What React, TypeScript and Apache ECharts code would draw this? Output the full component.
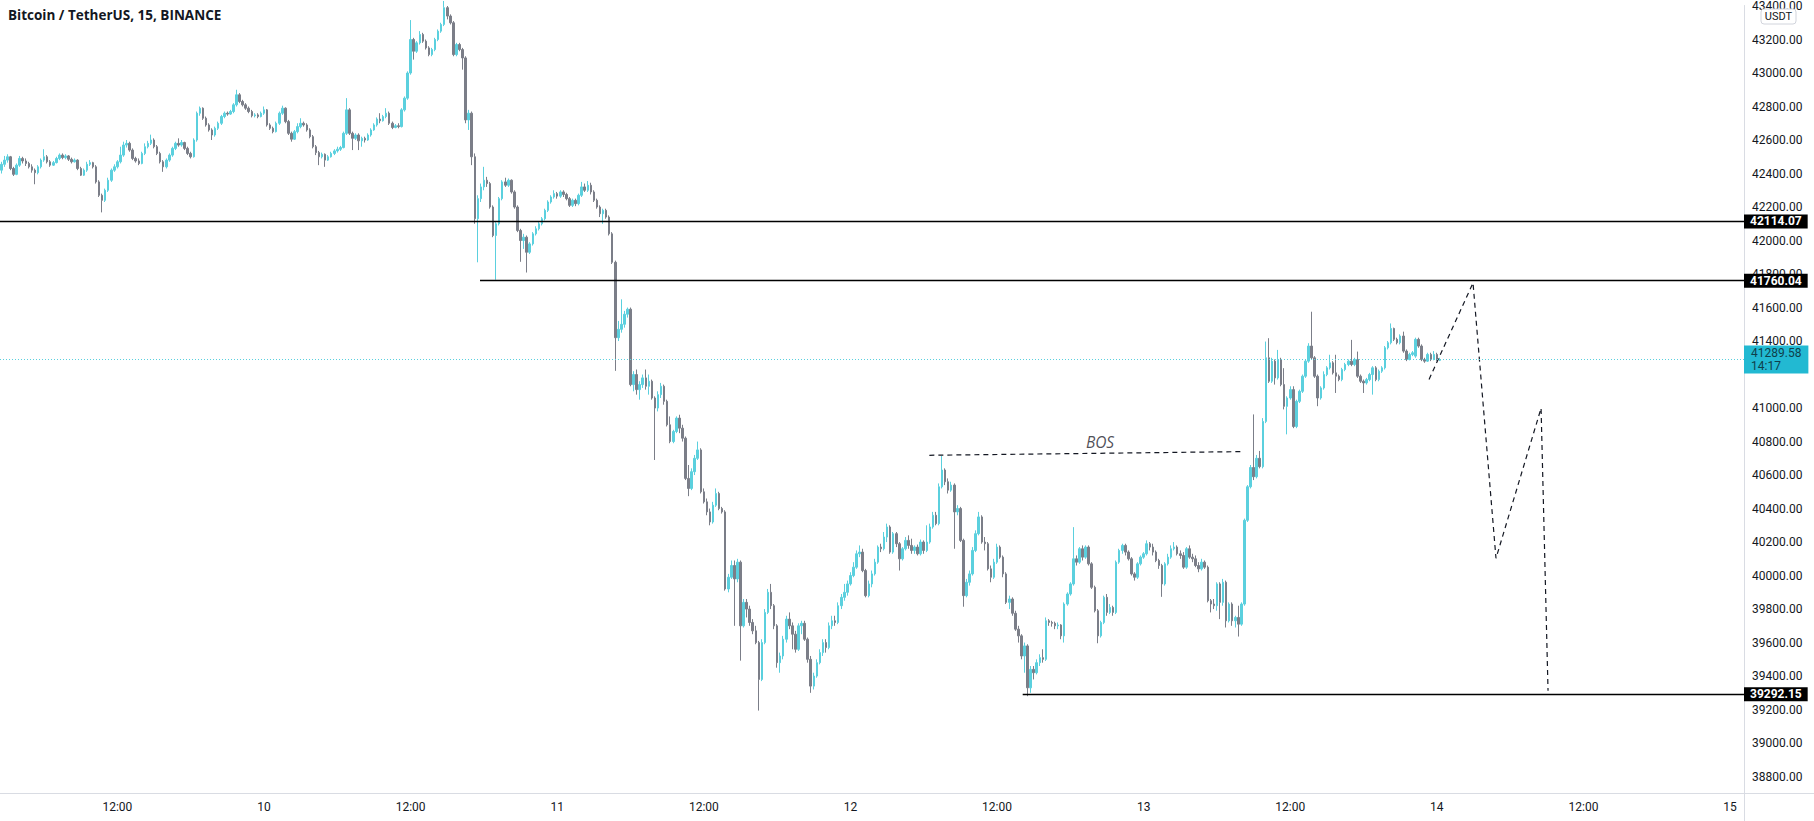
import React, { useEffect, useRef } from 'react';
import * as echarts from 'echarts';

// ---------- data ----------
const TITLE = 'Bitcoin / TetherUS, 15, BINANCE';
const DAY0 = 9; // x axis value 0 = day 9, 00:00 ; x values are hours
const FIRST_BAR_HOUR = 2.5; // first bar: day 9 02:30
const BAR_HOURS = 0.25; // 15-minute bars

// [open, close, low, high]
const ohlc: number[][] = [
  [42420,42455,42400,42470],[42455,42480,42440,42505],[42480,42500,42465,42515],[42500,42430,42420,42505],
  [42430,42395,42385,42440],[42395,42450,42390,42460],[42450,42490,42440,42505],[42490,42475,42460,42500],
  [42475,42460,42445,42490],[42460,42440,42430,42470],[42440,42420,42405,42455],[42420,42405,42336,42430],
  [42405,42440,42395,42450],[42440,42480,42430,42490],[42480,42500,42470,42545],[42500,42470,42460,42510],
  [42470,42450,42440,42480],[42450,42465,42445,42475],[42465,42490,42460,42500],[42490,42510,42480,42520],
  [42510,42495,42485,42520],[42495,42505,42485,42515],[42505,42485,42475,42510],[42485,42470,42460,42495],
  [42470,42480,42465,42490],[42480,42430,42420,42485],[42430,42390,42385,42440],[42390,42420,42385,42430],
  [42420,42455,42410,42470],[42455,42465,42445,42480],[42465,42440,42430,42470],[42440,42350,42340,42450],
  [42350,42270,42260,42360],[42270,42240,42168,42280],[42240,42300,42230,42310],[42300,42360,42290,42375],
  [42360,42420,42350,42430],[42420,42440,42410,42455],[42440,42470,42430,42480],[42470,42510,42460,42560],
  [42510,42570,42500,42590],[42570,42580,42555,42600],[42580,42540,42530,42590],[42540,42490,42480,42550],
  [42490,42475,42465,42500],[42475,42460,42450,42490],[42460,42520,42455,42530],[42520,42560,42510,42580],
  [42560,42580,42550,42595],[42580,42600,42570,42632],[42600,42560,42550,42610],[42560,42520,42510,42570],
  [42520,42470,42460,42530],[42470,42440,42410,42480],[42440,42480,42430,42490],[42480,42510,42470,42520],
  [42510,42550,42500,42560],[42550,42580,42540,42590],[42580,42570,42560,42610],[42570,42585,42560,42600],
  [42585,42550,42540,42590],[42550,42520,42510,42560],[42520,42500,42490,42530],[42500,42600,42495,42610],
  [42600,42760,42590,42770],[42760,42790,42745,42800],[42790,42730,42720,42795],[42730,42690,42680,42740],
  [42690,42660,42650,42700],[42660,42630,42600,42670],[42630,42670,42620,42680],[42670,42700,42660,42710],
  [42700,42740,42690,42750],[42740,42760,42730,42770],[42760,42755,42745,42770],[42755,42770,42750,42780],
  [42770,42810,42760,42820],[42810,42870,42800,42900],[42870,42830,42820,42880],[42830,42810,42800,42840],
  [42810,42790,42780,42820],[42790,42770,42760,42800],[42770,42745,42735,42780],[42745,42750,42735,42760],
  [42750,42740,42730,42760],[42740,42760,42735,42770],[42760,42780,42750,42800],[42780,42690,42680,42785],
  [42690,42670,42660,42700],[42670,42650,42640,42680],[42650,42700,42645,42710],[42700,42760,42690,42770],
  [42760,42790,42750,42805],[42790,42710,42700,42795],[42710,42640,42630,42720],[42640,42605,42590,42650],
  [42605,42650,42600,42660],[42650,42680,42640,42700],[42680,42700,42670,42730],[42700,42690,42680,42710],
  [42690,42660,42650,42700],[42660,42620,42610,42670],[42620,42560,42550,42630],[42560,42525,42510,42570],
  [42525,42500,42450,42535],[42500,42515,42490,42525],[42515,42480,42440,42520],[42480,42500,42475,42510],
  [42500,42520,42495,42530],[42520,42535,42510,42545],[42535,42545,42525,42560],[42545,42555,42535,42565],
  [42555,42640,42550,42650],[42640,42780,42630,42850],[42780,42640,42630,42790],[42640,42610,42540,42650],
  [42610,42630,42600,42640],[42630,42595,42540,42640],[42595,42610,42560,42620],[42610,42600,42585,42620],
  [42600,42630,42595,42640],[42630,42660,42620,42670],[42660,42690,42655,42700],[42690,42725,42680,42735],
  [42725,42715,42700,42760],[42715,42740,42710,42750],[42740,42760,42730,42790],[42760,42700,42690,42770],
  [42700,42675,42665,42710],[42675,42685,42670,42695],[42685,42680,42670,42700],[42680,42780,42675,42790],
  [42780,42850,42770,42860],[42850,43000,42840,43010],[43000,43200,42990,43316],[43200,43130,43080,43210],
  [43130,43180,43120,43190],[43180,43230,43170,43250],[43230,43190,43180,43240],[43190,43150,43140,43200],
  [43150,43110,43100,43160],[43110,43140,43100,43150],[43140,43200,43130,43210],[43200,43250,43190,43260],
  [43250,43290,43240,43300],[43290,43390,43280,43430],[43390,43340,43320,43400],[43340,43300,43290,43350],
  [43300,43110,43100,43310],[43110,43170,43100,43180],[43170,43140,43130,43180],[43140,43090,43020,43150],
  [43090,42720,42700,43100],[42720,42760,42660,42780],[42760,42500,42450,42770],[42500,42130,42100,42520],
  [42130,42250,41870,42270],[42250,42320,42230,42340],[42320,42360,42300,42440],[42360,42340,42320,42380],
  [42340,42200,42190,42350],[42200,42030,42020,42210],[42030,42100,41766,42110],[42100,42250,42090,42260],
  [42250,42350,42240,42360],[42350,42330,42320,42375],[42330,42360,42320,42370],[42360,42290,42280,42365],
  [42290,42200,42190,42300],[42200,42060,42050,42210],[42060,42000,41873,42070],[42000,42020,41950,42040],
  [42020,41930,41809,42030],[41930,41980,41920,41990],[41980,42040,41970,42050],[42040,42070,42030,42085],
  [42070,42100,42060,42110],[42100,42130,42090,42140],[42130,42180,42120,42190],[42180,42230,42170,42240],
  [42230,42260,42220,42270],[42260,42280,42250,42300],[42280,42265,42250,42290],[42265,42290,42255,42300],
  [42290,42275,42260,42300],[42275,42250,42240,42285],[42250,42210,42200,42260],[42210,42240,42200,42250],
  [42240,42220,42205,42250],[42220,42270,42210,42280],[42270,42320,42260,42350],[42320,42300,42290,42340],
  [42300,42330,42290,42355],[42330,42290,42275,42345],[42290,42240,42230,42300],[42240,42200,42190,42250],
  [42200,42160,42140,42210],[42160,42180,42100,42190],[42180,42140,42130,42190],[42140,42040,42030,42150],
  [42040,41870,41860,42050],[41870,41420,41222,41880],[41420,41470,41400,41520],[41470,41500,41450,41649],
  [41500,41560,41480,41580],[41560,41590,41540,41600],[41590,41140,41130,41600],[41140,41200,41100,41220],
  [41200,41110,41080,41230],[41110,41140,41050,41160],[41140,41180,41120,41200],[41180,41130,41110,41230],
  [41130,41160,41080,41200],[41160,41060,41050,41170],[41060,41000,40690,41070],[41000,41080,40980,41100],
  [41080,41130,41060,41150],[41130,41040,41020,41140],[41040,40900,40890,41050],[40900,40800,40790,40950],
  [40800,40860,40790,40870],[40860,40940,40850,40950],[40940,40880,40850,40960],[40880,40820,40800,40900],
  [40820,40580,40570,40830],[40580,40520,40474,40660],[40520,40620,40510,40640],[40620,40700,40600,40720],
  [40700,40750,40690,40800],[40750,40500,40490,40760],[40500,40440,40430,40520],[40440,40380,40360,40460],
  [40380,40320,40300,40400],[40320,40420,40310,40440],[40420,40490,40410,40520],[40490,40400,40390,40500],
  [40400,40380,40370,40410],[40380,39920,39910,40390],[39920,39990,39900,40010],[39990,40060,39980,40090],
  [40060,39980,39700,40090],[39980,40080,39960,40100],[40080,39700,39492,40090],[39700,39840,39690,39860],
  [39840,39800,39750,39860],[39800,39720,39700,39820],[39720,39670,39650,39740],[39670,39600,39590,39700],
  [39600,39380,39194,39610],[39380,39600,39370,39620],[39600,39780,39590,39800],[39780,39900,39770,39920],
  [39900,39820,39800,39950],[39820,39700,39680,39830],[39700,39480,39450,39710],[39480,39520,39420,39540],
  [39520,39620,39500,39640],[39620,39740,39600,39760],[39740,39700,39680,39780],[39700,39650,39560,39720],
  [39650,39560,39540,39670],[39560,39700,39550,39715],[39700,39715,39650,39730],[39715,39620,39610,39730],
  [39620,39500,39480,39630],[39500,39340,39300,39520],[39340,39400,39320,39420],[39400,39480,39390,39500],
  [39480,39540,39470,39560],[39540,39600,39520,39620],[39600,39570,39540,39620],[39570,39700,39560,39720],
  [39700,39730,39680,39760],[39730,39720,39700,39760],[39720,39820,39710,39840],[39820,39870,39800,39890],
  [39870,39900,39850,39950],[39900,39950,39880,39970],[39950,40000,39940,40020],[40000,40050,39990,40080],
  [40050,40130,40040,40150],[40130,40140,40110,40180],[40140,40030,40020,40160],[40030,39880,39870,40040],
  [39880,39950,39870,39970],[39950,40010,39930,40030],[40010,40080,40000,40100],[40080,40170,40070,40180],
  [40170,40160,40140,40190],[40160,40230,40150,40260],[40230,40290,40200,40310],[40290,40140,40130,40300],
  [40140,40250,40130,40260],[40250,40190,40170,40260],[40190,40100,40030,40200],[40100,40160,40090,40170],
  [40160,40210,40150,40230],[40210,40180,40160,40240],[40180,40150,40130,40220],[40150,40170,40130,40180],
  [40170,40130,40120,40185],[40130,40200,40120,40215],[40200,40150,40130,40210],[40150,40200,40140,40300],
  [40200,40290,40190,40310],[40290,40360,40280,40380],[40360,40310,40300,40380],[40310,40530,40300,40550],
  [40530,40630,40520,40714],[40630,40560,40540,40640],[40560,40510,40490,40580],[40510,40540,40500,40560],
  [40540,40380,40160,40550],[40380,40400,40360,40420],[40400,40210,40200,40410],[40210,39880,39814,40220],
  [39880,39960,39870,39980],[39960,40010,39940,40030],[40010,40150,40000,40170],[40150,40250,40140,40270],
  [40250,40350,40240,40380],[40350,40200,40190,40360],[40200,40190,40150,40230],[40190,40040,40030,40200],
  [40040,39990,39960,40060],[39990,40080,39980,40100],[40080,40170,40070,40190],[40170,40110,40100,40180],
  [40110,40010,39990,40120],[40010,39840,39830,40020],[39840,39860,39800,39880],[39860,39775,39760,39870],
  [39775,39680,39670,39790],[39680,39640,39600,39700],[39640,39520,39500,39650],[39520,39580,39420,39600],
  [39580,39330,39280,39590],[39330,39440,39300,39460],[39440,39420,39380,39460],[39420,39480,39410,39500],
  [39480,39510,39460,39530],[39510,39500,39480,39560],[39500,39730,39490,39750],[39730,39720,39700,39740],
  [39720,39715,39695,39730],[39715,39700,39680,39725],[39700,39705,39680,39720],[39705,39640,39620,39710],
  [39640,39830,39600,39840],[39830,39890,39820,39900],[39890,39950,39880,39960],[39950,40100,39940,40289],
  [40100,40080,40060,40120],[40080,40160,40070,40170],[40160,40110,40090,40180],[40110,40170,40100,40180],
  [40170,40070,40060,40180],[40070,39930,39920,40080],[39930,39790,39780,39940],[39790,39640,39596,39800],
  [39640,39720,39630,39730],[39720,39870,39710,39880],[39870,39780,39760,39890],[39780,39810,39770,39830],
  [39810,39780,39760,39820],[39780,40080,39770,40090],[40080,40150,40070,40160],[40150,40180,40130,40190],
  [40180,40140,40120,40190],[40140,40100,40090,40150],[40100,40010,40000,40110],[40010,39990,39970,40020],
  [39990,40070,39980,40080],[40070,40110,40060,40120],[40110,40130,40100,40140],[40130,40190,40120,40210],
  [40190,40170,40150,40200],[40170,40140,40120,40190],[40140,40090,40080,40150],[40090,40060,40040,40100],
  [40060,39950,39873,40070],[39950,40070,39940,40080],[40070,40110,40060,40130],[40110,40160,40100,40180],
  [40160,40170,40150,40200],[40170,40130,40120,40180],[40130,40120,40100,40150],[40120,40050,40040,40140],
  [40050,40160,40040,40170],[40160,40110,40100,40180],[40110,40100,40080,40130],[40100,40060,40050,40120],
  [40060,40040,40020,40080],[40040,40080,40030,40100],[40080,40050,40040,40090],[40050,39850,39840,40060],
  [39850,39830,39780,39860],[39830,39820,39800,39860],[39820,39950,39790,39960],[39950,39840,39740,39960],
  [39840,39960,39820,39980],[39960,39730,39690,39970],[39730,39830,39720,39840],[39830,39730,39700,39840],
  [39730,39750,39690,39760],[39750,39710,39636,39820],[39710,39830,39700,39840],[39830,40330,39820,40340],
  [40330,40530,40320,40540],[40530,40645,40520,40660],[40645,40590,40570,40962],[40590,40700,40580,40720],
  [40700,40650,40640,40744],[40650,40920,40640,40940],[40920,41300,40910,41397],[41300,41160,41150,41417],
  [41160,41280,41150,41300],[41280,41180,41140,41290],[41180,41290,41170,41347],[41290,41140,41130,41300],
  [41140,41010,40992,41238],[41010,41060,40843,41070],[41060,41110,41050,41130],[41110,40890,40880,41130],
  [40890,41040,40880,41050],[41040,41100,41030,41110],[41100,41190,41090,41200],[41190,41280,41180,41290],
  [41280,41370,41270,41387],[41370,41300,41290,41575],[41300,41190,41180,41310],[41190,41060,41011,41200],
  [41060,41120,41050,41130],[41120,41200,41110,41219],[41200,41240,41190,41250],[41240,41270,41230,41318],
  [41270,41210,41200,41280],[41210,41190,41090,41318],[41190,41170,41160,41200],[41170,41230,41160,41240],
  [41230,41260,41220,41270],[41260,41280,41250,41290],[41280,41260,41250,41407],[41260,41290,41250,41300],
  [41290,41190,41180,41337],[41190,41160,41150,41200],[41160,41150,41090,41170],[41150,41170,41140,41180],
  [41170,41200,41160,41210],[41200,41240,41080,41250],[41240,41170,41160,41250],[41170,41220,41160,41230],
  [41220,41240,41210,41250],[41240,41360,41230,41370],[41360,41390,41350,41400],[41390,41475,41380,41505],
  [41475,41410,41400,41480],[41410,41390,41380,41420],[41390,41430,41380,41440],[41430,41340,41330,41456],
  [41340,41290,41280,41350],[41290,41320,41285,41330],[41320,41330,41310,41340],[41310,41410,41300,41420],
  [41410,41370,41360,41420],[41370,41290,41280,41380],[41290,41280,41270,41300],[41280,41320,41275,41330],
  [41320,41290,41280,41330],[41290,41320,41285,41340],[41320,41285,41280,41330],[41285,41289.58,41280,41300],
];

// horizontal levels drawn on the chart
const levelPrices = [42114.07, 41760.04, 39292.15];
const levelStartHours: (number | null)[] = [null, 41.68, 86.1];
const lastPrice = 41289.58;
const countdown = '14:17';
// axis labels hidden behind the last-price tag, as on the original
const hiddenTickLabels = [41200];

// BOS annotation and projected path (x in hours, y in price)
const bosLine = [[78.46, 40718], [104.16, 40740]];
const bosLabel = [[92.43, 40797]];
const projection = [[119.36, 41171], [122.96, 41747], [124.84, 40103], [128.53, 40999], [129.1, 39313]];

// visible axis ranges
const X_MIN = 2.39;
const X_MAX = 145.14;
const Y_MIN = 38702;
const Y_MAX = 43403;

const UP = '#5bd0de';
const DOWN = '#7b7e88';
const INK = '#131722';
const FONT = 'Roboto, "Liberation Sans", sans-serif';

export default function App() {
  const ref = useRef<HTMLDivElement>(null);

  useEffect(() => {
    if (!ref.current) return;
    const chart = echarts.init(ref.current, undefined, { renderer: 'svg' });

    const candleData = ohlc.map((d, i) => [FIRST_BAR_HOUR + i * BAR_HOURS, d[0], d[1], d[2], d[3]]);

    const boxLabel = (bg: string, color: string, text: string, lh = 14) => ({
      show: true,
      position: 'end',
      distance: 0,
      formatter: text,
      backgroundColor: bg,
      color,
      fontSize: 12,
      fontWeight: 'bold',
      fontFamily: FONT,
      lineHeight: lh,
      padding: [0, 6, 0, 6],
      align: 'left',
    });

    const levelLine = { color: '#000000', width: 1.3, type: 'solid' };

    const markData: any[] = levelPrices.map((p, k) => {
      const start = levelStartHours[k];
      const label = boxLabel('#000000', '#ffffff', p.toFixed(2));
      if (start == null) {
        return { yAxis: p, lineStyle: levelLine, label };
      }
      return [
        { coord: [start, p], lineStyle: levelLine, label },
        { coord: [X_MAX, p] },
      ];
    });
    markData.push({
      yAxis: lastPrice,
      lineStyle: { color: UP, width: 1, type: [1, 2] },
      label: {
        ...boxLabel('#22b9d2', '#0f3f4a', lastPrice.toFixed(2) + '\n' + countdown, 13),
        fontWeight: 'normal',
        padding: [1, 7, 1, 7],
      },
    });

    chart.setOption({
      animation: false,
      backgroundColor: '#ffffff',
      title: {
        text: TITLE,
        left: 8,
        top: 8,
        padding: 0,
        textStyle: { fontSize: 13.5, fontWeight: 'bold', color: INK, fontFamily: '"Open Sans", Roboto, sans-serif' },
      },
      grid: { left: 0, right: 70, top: 0, bottom: 28, containLabel: false },
      xAxis: {
        type: 'value',
        min: X_MIN,
        max: X_MAX,
        minInterval: 12,
        maxInterval: 12,
        axisLine: { show: true, lineStyle: { color: '#d9dce3', width: 1 } },
        axisTick: { show: false },
        splitLine: { show: false },
        axisLabel: {
          color: INK,
          fontSize: 12,
          fontFamily: FONT,
          margin: 8,
          showMinLabel: false,
          showMaxLabel: false,
          formatter: (v: number) => {
            const h = Math.round(v);
            return h % 24 === 0 ? String(DAY0 + h / 24) : '12:00';
          },
        },
      },
      yAxis: {
        type: 'value',
        position: 'right',
        min: Y_MIN,
        max: Y_MAX,
        minInterval: 200,
        maxInterval: 200,
        scale: true,
        axisLine: { show: true, lineStyle: { color: '#d9dce3', width: 1 } },
        axisTick: { show: false },
        splitLine: { show: false },
        axisLabel: {
          color: INK,
          fontSize: 12,
          fontFamily: FONT,
          margin: 8,
          showMinLabel: false,
          showMaxLabel: false,
          formatter: (v: number) => (hiddenTickLabels.includes(Math.round(v)) ? '' : v.toFixed(2)),
        },
      },
      series: [
        {
          type: 'candlestick',
          data: candleData,
          encode: { x: 0, y: [1, 2, 3, 4] },
          barWidth: 2,
          itemStyle: {
            color: UP,
            color0: DOWN,
            borderColor: UP,
            borderColor0: DOWN,
            borderWidth: 1,
          },
          markLine: {
            silent: true,
            symbol: ['none', 'none'],
            animation: false,
            data: markData,
          },
          z: 3,
        },
        {
          type: 'line',
          data: bosLine,
          symbol: 'none',
          lineStyle: { color: INK, width: 1.2, type: [5, 4] },
          z: 4,
        },
        {
          type: 'line',
          data: projection,
          symbol: 'none',
          lineStyle: { color: INK, width: 1.2, type: [5, 4] },
          z: 4,
        },
        {
          type: 'scatter',
          data: bosLabel,
          symbolSize: 1,
          itemStyle: { color: 'rgba(0,0,0,0)' },
          label: {
            show: true,
            position: 'inside',
            formatter: 'BOS',
            fontStyle: 'italic',
            fontSize: 15.5,
            fontFamily: '"Open Sans", Roboto, sans-serif',
            color: '#1e222d',
          },
          z: 5,
        },
      ],
      graphic: [
        { type: 'line', shape: { x1: 1744, y1: 793.5, x2: 1814, y2: 793.5 }, style: { stroke: '#d9dce3', lineWidth: 1 } },
        { type: 'line', shape: { x1: 1744.5, y1: 793, x2: 1744.5, y2: 821 }, style: { stroke: '#d9dce3', lineWidth: 1 } },
        {
          type: 'rect',
          shape: { x: 1761, y: 9, width: 35, height: 15, r: 3 },
          style: { fill: '#ffffff', stroke: '#d1d4dc', lineWidth: 1 },
          z: 10,
        },
        {
          type: 'text',
          x: 1778.5,
          y: 16.5,
          style: { text: 'USDT', fill: INK, fontSize: 11, fontFamily: FONT, align: 'center', verticalAlign: 'middle' },
          z: 11,
        },
      ],
    });

    return () => chart.dispose();
  }, []);

  return (
    <div
      ref={ref}
      style={{ position: 'absolute', left: 0, top: 0, width: 1814, height: 821, background: '#ffffff' }}
    />
  );
}
